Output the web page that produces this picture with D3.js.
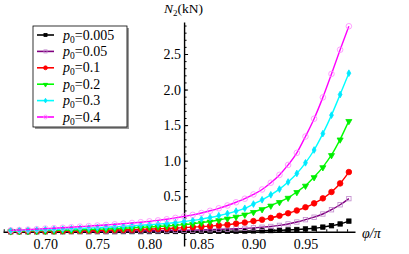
<!DOCTYPE html>
<html lang="en">
<head>
<meta charset="utf-8">
<title>N2 vs phi/pi</title>
<script src="https://cdn.jsdelivr.net/npm/d3@7"></script>
<style>
    html, body { margin: 0; padding: 0; background: #fff; }
    svg { display: block; }
    svg text { font-family: "Liberation Serif", "Times New Roman", serif; }
</style>
</head>
<body>
<script>
// phi/pi sample points (marker positions)
const phi = [0.6667, 0.6750, 0.6833, 0.6917, 0.7000, 0.7083, 0.7167, 0.7250, 0.7333, 0.7417,
             0.7500, 0.7583, 0.7667, 0.7750, 0.7833, 0.7917, 0.8000, 0.8083, 0.8167, 0.8250,
             0.8333, 0.8417, 0.8500, 0.8583, 0.8667, 0.8750, 0.8833, 0.8917, 0.9000, 0.9083,
             0.9167, 0.9250, 0.9333, 0.9417, 0.9500, 0.9583, 0.9667, 0.9750, 0.9833, 0.9917];

// N2 (kN) for each p0
const n005 = [0.001, 0.001, 0.001, 0.001, 0.001, 0.001, 0.001, 0.002, 0.002, 0.002,
              0.002, 0.002, 0.002, 0.003, 0.003, 0.003, 0.003, 0.004, 0.004, 0.004,
              0.005, 0.005, 0.006, 0.006, 0.007, 0.008, 0.009, 0.010, 0.012, 0.014,
              0.017, 0.021, 0.026, 0.032, 0.040, 0.050, 0.066, 0.085, 0.110, 0.150];
const n05 = [0.003, 0.003, 0.004, 0.004, 0.005, 0.005, 0.006, 0.006, 0.007, 0.008,
             0.008, 0.009, 0.010, 0.011, 0.012, 0.013, 0.014, 0.015, 0.017, 0.019,
             0.021, 0.023, 0.026, 0.029, 0.033, 0.037, 0.042, 0.048, 0.055, 0.064,
             0.075, 0.090, 0.110, 0.137, 0.170, 0.205, 0.250, 0.310, 0.380, 0.466];
const n1 = [0.005, 0.006, 0.007, 0.008, 0.009, 0.010, 0.011, 0.013, 0.015, 0.017,
            0.019, 0.021, 0.024, 0.027, 0.030, 0.034, 0.038, 0.042, 0.047, 0.052,
            0.058, 0.065, 0.072, 0.080, 0.090, 0.100, 0.115, 0.130, 0.150, 0.170,
            0.195, 0.225, 0.260, 0.300, 0.345, 0.400, 0.470, 0.560, 0.680, 0.840];
const n2 = [0.008, 0.010, 0.012, 0.014, 0.016, 0.019, 0.022, 0.025, 0.028, 0.032,
            0.036, 0.040, 0.045, 0.050, 0.056, 0.062, 0.068, 0.075, 0.082, 0.090,
            0.100, 0.113, 0.128, 0.145, 0.165, 0.188, 0.214, 0.244, 0.280, 0.320,
            0.370, 0.420, 0.480, 0.560, 0.650, 0.770, 0.910, 1.080, 1.300, 1.560];
const n3 = [0.015, 0.018, 0.021, 0.025, 0.029, 0.033, 0.037, 0.042, 0.047, 0.052,
            0.058, 0.064, 0.070, 0.077, 0.084, 0.091, 0.099, 0.108, 0.118, 0.130,
            0.145, 0.160, 0.178, 0.200, 0.226, 0.256, 0.290, 0.330, 0.390, 0.450,
            0.520, 0.600, 0.700, 0.820, 0.970, 1.150, 1.380, 1.640, 1.930, 2.230];
const n4 = [0.020, 0.025, 0.030, 0.037, 0.045, 0.050, 0.057, 0.064, 0.072, 0.080,
            0.088, 0.096, 0.105, 0.114, 0.124, 0.135, 0.147, 0.160, 0.176, 0.195,
            0.216, 0.238, 0.264, 0.295, 0.330, 0.370, 0.415, 0.465, 0.525, 0.595,
            0.690, 0.800, 0.940, 1.110, 1.340, 1.590, 1.890, 2.220, 2.560, 2.890];

const p0Labels = ["0.005", "0.05", "0.1", "0.2", "0.3", "0.4"];
const xTicks = [0.70, 0.75, 0.80, 0.85, 0.90, 0.95];
const yTicks = [0.5, 1.0, 1.5, 2.0, 2.5];

const w = 409, h = 254;

const series = [
    {label: p0Labels[0], values: n005, line: "#000000", marker: "square",  fill: "#000000", stroke: "#000000"},
    {label: p0Labels[1], values: n05,  line: "#800080", marker: "osquare", fill: "none",    stroke: "#c088cc"},
    {label: p0Labels[2], values: n1,   line: "#ff0000", marker: "circle",  fill: "#ff0000", stroke: "#ff0000"},
    {label: p0Labels[3], values: n2,   line: "#00ff00", marker: "tri",     fill: "#00ee00", stroke: "#00ee00"},
    {label: p0Labels[4], values: n3,   line: "#00ffff", marker: "diamond", fill: "#00e8ff", stroke: "#00e8ff"},
    {label: p0Labels[5], values: n4,   line: "#ff00ff", marker: "ocircle", fill: "none",    stroke: "#ff88ff"}
];

const svg = d3.select("body").append("svg")
    .attr("width", w)
    .attr("height", h);

const x = d3.scaleLinear().domain([0.6593, 0.9976]).range([3, 355]);
const y = d3.scaleLinear().domain([-0.2, 2.95]).range([246, 22]);

// x axis, crossing at N2 = 0
let xAxis = d3.axisBottom(x).tickValues(xTicks).tickFormat(d3.format(".2f"))
    .tickSize(-4).tickSizeOuter(0).tickPadding(7);
let xMinor = d3.axisBottom(x).tickValues(d3.range(66, 100).map(d => d / 100))
    .tickSize(-2.5).tickSizeOuter(0).tickFormat("");

let gxm = svg.append("g").attr("transform", "translate(0," + y(0) + ")").call(xMinor);
gxm.select(".domain").remove();
let gx = svg.append("g").attr("transform", "translate(0," + y(0) + ")").call(xAxis);

// y axis, crossing at phi/pi = 5/6
let yAxis = d3.axisLeft(y).tickValues(yTicks).tickFormat(d3.format(".1f"))
    .tickSize(-4).tickSizeOuter(0).tickPadding(3);
let yMinor = d3.axisLeft(y).tickValues(d3.range(-1, 30).map(d => d / 10))
    .tickSize(-2.5).tickSizeOuter(0).tickFormat("");

let gym = svg.append("g").attr("transform", "translate(" + x(0.83333) + ",0)").call(yMinor);
gym.select(".domain").remove();
let gy = svg.append("g").attr("transform", "translate(" + x(0.83333) + ",0)").call(yAxis);

svg.selectAll("g").attr("font-family", null);
svg.selectAll(".tick text")
    .attr("font-size", "14px")
    .attr("fill", "#000");
svg.selectAll(".domain").attr("stroke-width", 1.4);

// axis labels
let yl = svg.append("text").attr("x", 164).attr("y", 13).attr("font-size", "13.5px");
yl.append("tspan").attr("font-style", "italic").text("N");
yl.append("tspan").attr("font-size", "9px").attr("dy", 3).text("2");
yl.append("tspan").attr("dy", -3).text("(kN)");

svg.append("text").attr("x", 362).attr("y", 238)
    .attr("font-size", "14px").attr("font-style", "italic")
    .text("\u03C6/\u03C0");

// markers
function drawMarker(g, type, cx, cy, s) {
    let m;
    if (type === "square" || type === "osquare") {
        m = g.append("rect").attr("x", cx - 2.2 * s).attr("y", cy - 2.2 * s)
            .attr("width", 4.4 * s).attr("height", 4.4 * s);
    } else if (type === "circle" || type === "ocircle") {
        m = g.append("circle").attr("cx", cx).attr("cy", cy).attr("r", 2.8 * s);
    } else if (type === "tri") {
        m = g.append("path").attr("d", d3.symbol().type(d3.symbolTriangle).size(16 * s * s)())
            .attr("transform", "translate(" + cx + "," + (cy + 0.4) + ") rotate(180)");
    } else {
        m = g.append("path").attr("d", d3.symbol().type(d3.symbolDiamond).size(13 * s * s)())
            .attr("transform", "translate(" + cx + "," + cy + ")");
    }
    return m;
}

let line = d3.line()
    .x((d, i) => x(phi[i]))
    .y(d => y(d))
    .curve(d3.curveMonotoneX);

series.forEach(s => {
    let g = svg.append("g");
    g.append("path")
        .datum(s.values)
        .attr("d", line)
        .attr("fill", "none")
        .attr("stroke", s.line)
        .attr("stroke-width", 1.4);
    s.values.forEach((v, i) => {
        drawMarker(g, s.marker, x(phi[i]), y(v), 1)
            .attr("fill", s.fill)
            .attr("stroke", s.stroke)
            .attr("stroke-width", 0.8);
    });
});

// legend
let lg = svg.append("g");
lg.append("rect").attr("x", 35).attr("y", 28).attr("width", 94).attr("height", 101).attr("fill", "#999");
lg.append("rect").attr("x", 33).attr("y", 26).attr("width", 94).attr("height", 101)
    .attr("fill", "#fff").attr("stroke", "#000").attr("stroke-width", 0.8);

series.forEach((s, i) => {
    let cy = 35 + i * 16.4;
    lg.append("line").attr("x1", 37).attr("x2", 54).attr("y1", cy).attr("y2", cy)
        .attr("stroke", s.line).attr("stroke-width", 1.6);
    drawMarker(lg, s.marker, 45.5, cy, 0.7)
        .attr("fill", s.fill).attr("stroke", s.stroke).attr("stroke-width", 0.8);
    let t = lg.append("text").attr("x", 63).attr("y", cy + 4.5).attr("font-size", "14px");
    t.append("tspan").attr("font-style", "italic").text("p");
    t.append("tspan").attr("font-size", "9.5px").attr("dy", 3).text("0");
    t.append("tspan").attr("dy", -3).text("=" + s.label);
});
</script>
</body>
</html>
